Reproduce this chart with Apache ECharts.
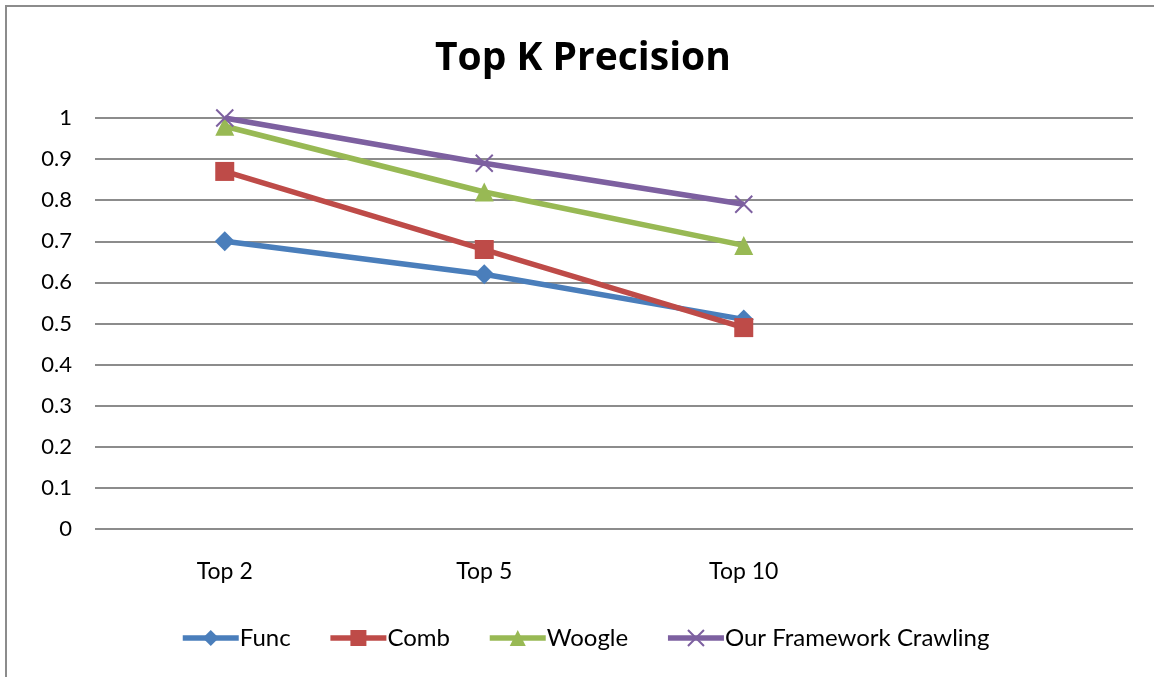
<!DOCTYPE html>
<html>
<head>
<meta charset="utf-8">
<script src="https://cdn.jsdelivr.net/npm/echarts@6/dist/echarts.min.js"></script>
<style>
  html, body { margin: 0; padding: 0; background: #fff; }
  #chart { width: 1154px; height: 677px; }
</style>
</head>
<body>
<div id="chart"></div>
<script>
// Categories along the x axis (last slot left empty)
const categories = ['Top 2', 'Top 5', 'Top 10', ''];

// Precision values per method
const funcValues = [0.70, 0.62, 0.51];
const combValues = [0.87, 0.68, 0.49];
const woogleValues = [0.98, 0.82, 0.69];
const frameworkValues = [1.00, 0.89, 0.79];

const seriesNames = ['Func', 'Comb', 'Woogle', 'Our Framework Crawling'];
const FONT = 'Lato, "Open Sans", sans-serif';

const crossPath = 'path://M0,0L10,10M10,0L0,10';

const chart = echarts.init(document.getElementById('chart'));

function lineSeries(name, data, color, symbol, size, extra) {
  return Object.assign({
    name: name,
    type: 'line',
    data: data,
    symbol: symbol,
    symbolSize: size,
    lineStyle: { color: color, width: 5.5 },
    itemStyle: { color: color },
    emphasis: { disabled: true },
    animation: false
  }, extra || {});
}

chart.setOption({
  animation: false,
  title: {
    text: 'Top K Precision',
    left: 430,
    top: 34,
    textStyle: { fontFamily: '"Open Sans", Lato, sans-serif', fontSize: 39, fontWeight: 'bold', color: '#000' }
  },
  graphic: [{
    type: 'rect',
    shape: { x: 6, y: 6, width: 1160, height: 700 },
    style: { fill: 'none', stroke: '#8c8c8c', lineWidth: 2 },
    silent: true
  }],
  grid: { left: 95, right: 21, top: 118, bottom: 148 },
  xAxis: {
    type: 'category',
    data: categories,
    boundaryGap: true,
    axisLine: { show: false },
    axisTick: { show: false },
    axisLabel: { fontFamily: FONT, fontSize: 23, color: '#000', margin: 31 }
  },
  yAxis: {
    type: 'value',
    min: 0,
    max: 1,
    interval: 0.1,
    axisLine: { show: false },
    axisTick: { show: false },
    splitLine: { lineStyle: { color: '#8c8c8c', width: 2 } },
    axisLabel: {
      fontFamily: FONT, fontSize: 22, color: '#000', margin: 23,
      formatter: v => String(Math.round(v * 10) / 10)
    }
  },
  legend: {
    top: 621,
    left: 175,
    itemWidth: 56,
    itemHeight: 20,
    itemGap: 37,
    lineStyle: { width: 5.5 },
    textStyle: { fontFamily: FONT, fontSize: 24, color: '#000', padding: [0, 0, 0, -4] },
    data: seriesNames
  },
  series: [
    lineSeries(seriesNames[0], funcValues, '#4a7ebb', 'diamond', 20),
    lineSeries(seriesNames[1], combValues, '#be4b48', 'rect', 19),
    lineSeries(seriesNames[2], woogleValues, '#98b954', 'triangle', 19),
    lineSeries(seriesNames[3], frameworkValues, '#7d60a0', crossPath, 17, {
      itemStyle: { color: '#7d60a0', borderColor: '#7d60a0', borderWidth: 2 }
    })
  ]
});
</script>
</body>
</html>
